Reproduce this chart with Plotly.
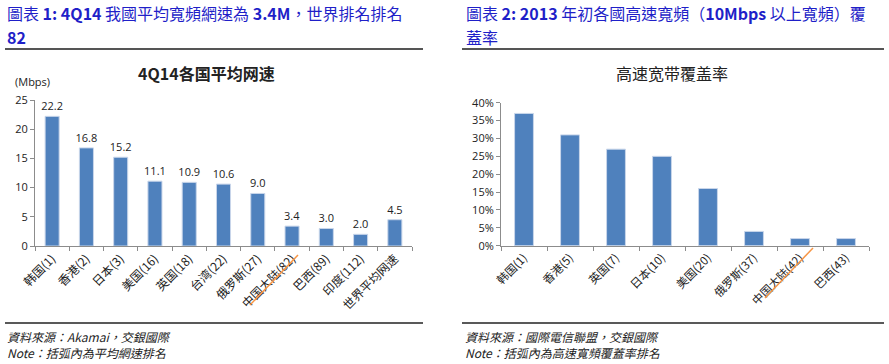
import plotly.graph_objects as go

W, H = 889, 364

# ---- data ----
left_categories = ["韩国(1)", "香港(2)", "日本(3)", "美国(16)", "英国(18)", "台湾(22)",
                   "俄罗斯(27)", "中国大陆(82)", "巴西(89)", "印度(112)", "世界平均网速"]
left_values = [22.2, 16.8, 15.2, 11.1, 10.9, 10.6, 9.0, 3.4, 3.0, 2.0, 4.5]
left_yticks = [0, 5, 10, 15, 20, 25]

right_categories = ["韩国(1)", "香港(5)", "英国(7)", "日本(10)", "美国(20)",
                    "俄罗斯(37)", "中国大陆(42)", "巴西(43)"]
right_values = [0.37, 0.31, 0.27, 0.25, 0.16, 0.04, 0.02, 0.02]
right_yticks = [0, 0.05, 0.10, 0.15, 0.20, 0.25, 0.30, 0.35, 0.40]

BAR = "#4F81BD"
AX = "#8C8C8C"
BLUE = "#1F1FC8"
CJK_SC = "Noto Sans CJK SC"
CJK_TC = "Noto Sans CJK TC"

def px(x):
    return x / W

def py(y):
    return 1 - y / H

fig = go.Figure()
fig.add_trace(go.Bar(
    x=left_categories, y=left_values, xaxis="x", yaxis="y",
    marker=dict(color=BAR, line=dict(color="#C9D6EA", width=1)),
    text=[f"{v:.1f}" for v in left_values], textposition="outside",
    constraintext="none",
    textfont=dict(size=11, color="#222222", family="Open Sans"),
    cliponaxis=False, width=0.41, showlegend=False, hoverinfo="x+y",
))
fig.add_trace(go.Bar(
    x=right_categories, y=right_values, xaxis="x2", yaxis="y2",
    marker=dict(color=BAR, line=dict(color="#C9D6EA", width=1)),
    cliponaxis=False, width=0.41, showlegend=False, hoverinfo="x+y",
))

axis_common = dict(showline=True, linecolor=AX, linewidth=1, showgrid=False,
                   zeroline=False, ticks="outside", ticklen=4, tickcolor=AX,
                   automargin=False)

fig.update_layout(
    width=W, height=H, autosize=False,
    margin=dict(l=0, r=0, t=0, b=0, pad=0),
    paper_bgcolor="white", plot_bgcolor="white",
    font=dict(family=CJK_SC, color="#222222"),
    xaxis=dict(domain=[px(35), px(412)], anchor="y", type="category",
               tickangle=-45, tickson="boundaries",
               tickfont=dict(size=12, family=CJK_SC, color="#222222"),
               **axis_common),
    yaxis=dict(domain=[py(246), py(100)], anchor="x", range=[0, 25],
               tickvals=left_yticks, tickfont=dict(size=11, family="Open Sans", color="#222222"),
               **axis_common),
    xaxis2=dict(domain=[px(501), px(869)], anchor="y2", type="category",
                tickangle=-45, tickson="boundaries",
                tickfont=dict(size=11.5, family=CJK_SC, color="#222222"),
                **axis_common),
    yaxis2=dict(domain=[py(245.7), py(102.7)], anchor="x2", range=[0, 0.40],
                tickvals=right_yticks, tickformat=".0%",
                tickfont=dict(size=11, family="Open Sans", color="#222222"),
                **axis_common),
)

ann = []
def text(x, y, s, size, family=CJK_TC, color="#222222", xanchor="left"):
    ann.append(dict(x=px(x), y=py(y), xref="paper", yref="paper", text=s,
                    showarrow=False, xanchor=xanchor, yanchor="middle", align="left",
                    font=dict(size=size, family=family, color=color)))

# headers
text(5, 13.5, "圖表 <b>1: 4Q14</b> 我國平均寬頻網速為 <b>3.4M</b>，世界排名排名", 16, color=BLUE)
text(5, 37.5, "<b>82</b>", 16, color=BLUE)
text(464, 13.5, "圖表 <b>2: 2013</b> 年初各國高速寬頻（<b>10Mbps</b> 以上寬頻）覆", 16, color=BLUE)
text(464, 37.5, "蓋率", 16, color=BLUE)

# chart titles
text(206, 73, "<b>4Q14各国平均网速</b>", 16, family=CJK_SC, xanchor="center")
text(672, 73, "高速宽带覆盖率", 16, family=CJK_SC, xanchor="center")
text(13, 81, "(Mbps)", 11, family="Open Sans")

# footers
text(5, 344, "<i>資料來源：Akamai，交銀國際</i><br><i>Note：括弧內為平均網速排名</i>", 12)
text(463, 344, "<i>資料來源：國際電信聯盟，交銀國際</i><br><i>Note：括弧內為高速寬頻覆蓋率排名</i>", 12)

fig.update_layout(annotations=ann)

shapes = []
def line(x0, y0, x1, y1, color, width):
    shapes.append(dict(type="line", xref="paper", yref="paper",
                       x0=px(x0), y0=py(y0), x1=px(x1), y1=py(y1),
                       line=dict(color=color, width=width)))

line(5, 49, 423, 49, "#555555", 2)
line(462, 49, 884, 49, "#555555", 2)
line(5, 323, 423, 323, "#222222", 1.5)
line(462, 323, 884, 323, "#222222", 1.5)
# orange strike-through marks on 中国大陆 labels
line(250, 305, 298, 255, "#F79646", 1.5)
line(765, 298, 813, 248, "#F79646", 1.5)

fig.update_layout(shapes=shapes)
fig.write_html("out.html", config={"displayModeBar": False},
               post_script="document.body.style.margin='0';document.body.style.overflow='hidden';")
